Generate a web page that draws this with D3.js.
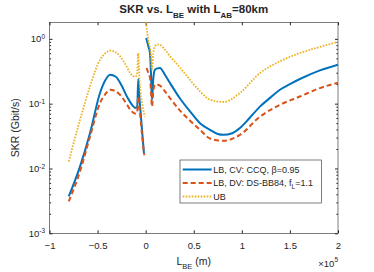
<!DOCTYPE html>
<html>
<head>
<meta charset="utf-8">
<script src="https://cdn.jsdelivr.net/npm/d3@7"></script>
<style>
  body { margin: 0; background: #fff; }
  text { font-family: "Liberation Sans", Arial, sans-serif; fill: #262626; }
</style>
</head>
<body>
<div id="chart"></div>
<script>
// x values in units of 1e5 m, SKR in Gbit/s (each series has two branches around L_BE = 0)
const cvLeftX = [-0.8, -0.683, -0.579, -0.475, -0.42, -0.371, -0.31, -0.25, -0.19, -0.14, -0.105, -0.088, -0.077, -0.07, -0.052, -0.035, -0.018];
const cvLeftY = [0.0037, 0.0107, 0.035, 0.146, 0.23, 0.28, 0.26, 0.19, 0.125, 0.095, 0.086, 0.09, 0.24, 0.16, 0.072, 0.035, 0.0172];
const cvRightX = [0.005, 0.03, 0.045, 0.055, 0.066, 0.08, 0.097, 0.12, 0.149, 0.2, 0.253, 0.357, 0.461, 0.565, 0.669, 0.75, 0.807, 0.9, 0.98, 1.08, 1.188, 1.3, 1.396, 1.5, 1.604, 1.812, 2.0];
const cvRightY = [1.03, 0.75, 0.6, 0.3, 0.115, 0.25, 0.334, 0.35, 0.355, 0.28, 0.208, 0.12, 0.076, 0.05, 0.0395, 0.034, 0.033, 0.035, 0.042, 0.06, 0.09, 0.125, 0.164, 0.2, 0.24, 0.326, 0.4];

const dvLeftX = [-0.8, -0.683, -0.579, -0.475, -0.42, -0.371, -0.31, -0.267, -0.2, -0.146, -0.101, -0.088, -0.077, -0.065, -0.052, -0.035, -0.015];
const dvLeftY = [0.0031, 0.009, 0.031, 0.102, 0.14, 0.164, 0.155, 0.137, 0.1, 0.076, 0.07, 0.075, 0.13, 0.09, 0.056, 0.03, 0.016];
const dvRightX = [0.01, 0.03, 0.045, 0.055, 0.066, 0.08, 0.097, 0.12, 0.149, 0.2, 0.253, 0.357, 0.443, 0.565, 0.669, 0.807, 0.98, 1.188, 1.396, 1.604, 1.812, 2.0];
const dvRightY = [0.355, 0.29, 0.25, 0.16, 0.09, 0.16, 0.196, 0.196, 0.19, 0.155, 0.122, 0.078, 0.058, 0.0395, 0.029, 0.0267, 0.033, 0.063, 0.096, 0.129, 0.174, 0.21];

const ubLeftX = [-0.8, -0.683, -0.579, -0.475, -0.42, -0.371, -0.31, -0.267, -0.2, -0.163, -0.111, -0.09, -0.077, -0.07, -0.059, -0.035, -0.01];
const ubLeftY = [0.0128, 0.056, 0.185, 0.476, 0.6, 0.66, 0.62, 0.54, 0.38, 0.3, 0.26, 0.28, 0.6, 0.35, 0.185, 0.1, 0.063];
const ubRightX = [-0.005, 0.01, 0.027, 0.052, 0.066, 0.079, 0.097, 0.12, 0.149, 0.2, 0.253, 0.357, 0.453, 0.565, 0.669, 0.807, 0.98, 1.188, 1.396, 1.604, 1.812, 2.0];
const ubRightY = [2.5, 1.5, 0.97, 0.6, 0.334, 0.6, 0.766, 0.82, 0.81, 0.68, 0.54, 0.36, 0.24, 0.155, 0.115, 0.106, 0.146, 0.297, 0.449, 0.605, 0.75, 0.9];

const xTicks = [-1, -0.5, 0, 0.5, 1, 1.5, 2];
const yTicks = [1e-3, 1e-2, 1e-1, 1];
const legendLabels = ["LB, CV: CCQ, ", "LB, DV: DS-BB84, f", "UB"];

const margin = { top: 22.3, right: 36, bottom: 38.7, left: 49.5 },
  width = 374 - margin.left - margin.right,
  height = 272 - margin.top - margin.bottom;

const root = d3
  .select("#chart")
  .append("svg")
  .attr("width", 374)
  .attr("height", 272);

const svg = root
  .append("g")
  .attr("transform", `translate(${margin.left},${margin.top})`);

const x = d3.scaleLinear().domain([-1, 2]).range([0, width]);
const y = d3.scaleLog().domain([1e-3, 1.8]).range([height, 0]);

svg
  .append("clipPath")
  .attr("id", "clip")
  .append("rect")
  .attr("width", width)
  .attr("height", height);

// minor log ticks
const minor = [];
for (let e = -3; e <= 0; e++) {
  for (let k = 2; k <= 9; k++) {
    const v = k * Math.pow(10, e);
    if (v <= 1.8) minor.push(v);
  }
}

const axisColor = "#262626";

// bottom / top axes with inward ticks
const gx = svg
  .append("g")
  .attr("transform", `translate(0,${height})`)
  .call(d3.axisBottom(x).tickValues(xTicks).tickSizeInner(-3).tickSizeOuter(0).tickPadding(9)
    .tickFormat((d) => (d === 0 ? "0" : d3.format("")(d))));
gx.selectAll("text").style("font-size", "9.5px").attr("fill", axisColor);
svg
  .append("g")
  .call(d3.axisTop(x).tickValues(xTicks).tickSizeInner(-3).tickSizeOuter(0).tickFormat(""));

// left / right axes
const gy = svg
  .append("g")
  .call(d3.axisLeft(y).tickValues(yTicks).tickSizeInner(-3).tickSizeOuter(0).tickPadding(8).tickFormat(""));
gy.selectAll(".tick")
  .append("text")
  .attr("text-anchor", "end")
  .attr("x", -4.5)
  .attr("dy", "0.33em")
  .style("font-size", "9.5px")
  .call((t) => {
    t.append("tspan").text("10");
    t.append("tspan")
      .attr("dy", "-0.55em")
      .style("font-size", "6.5px")
      .text((d) => Math.round(Math.log10(d)));
  });
svg
  .append("g")
  .attr("transform", `translate(${width},0)`)
  .call(d3.axisRight(y).tickValues(yTicks).tickSizeInner(-3).tickSizeOuter(0).tickFormat(""));
svg
  .append("g")
  .call(d3.axisLeft(y).tickValues(minor).tickSizeInner(-1.6).tickSizeOuter(0).tickFormat(""));
svg
  .append("g")
  .attr("transform", `translate(${width},0)`)
  .call(d3.axisRight(y).tickValues(minor).tickSizeInner(-1.6).tickSizeOuter(0).tickFormat(""));

svg.selectAll(".domain").remove();
svg.selectAll(".tick line").attr("stroke", axisColor);

svg
  .append("rect")
  .attr("width", width)
  .attr("height", height)
  .attr("fill", "none")
  .attr("stroke", axisColor)
  .attr("stroke-width", 0.6);

// curves
const line = d3
  .line()
  .x((d) => x(d[0]))
  .y((d) => y(d[1]))
  .curve(d3.curveMonotoneX);

const series = [
  { parts: [[cvLeftX, cvLeftY], [cvRightX, cvRightY]], color: "#0072BD", width: 2, dash: null },
  { parts: [[dvLeftX, dvLeftY], [dvRightX, dvRightY]], color: "#D95319", width: 2, dash: "5,3" },
  { parts: [[ubLeftX, ubLeftY], [ubRightX, ubRightY]], color: "#EDB120", width: 1.8, dash: "1.6,1.4" },
];

const plot = svg.append("g").attr("clip-path", "url(#clip)");
series.forEach((s) => {
  s.parts.forEach(([xs, ys]) => {
    plot
      .append("path")
      .datum(xs.map((v, i) => [v, ys[i]]))
      .attr("d", line)
      .attr("fill", "none")
      .attr("stroke", s.color)
      .attr("stroke-width", s.width)
      .attr("stroke-dasharray", s.dash);
  });
});

// legend
const lg = root.append("g");
lg.append("rect")
  .attr("x", 180)
  .attr("y", 160)
  .attr("width", 141.5)
  .attr("height", 43)
  .attr("fill", "#fff")
  .attr("stroke", axisColor)
  .attr("stroke-width", 0.6);
const rowY = [169.5, 183, 196.5];
series.forEach((s, i) => {
  lg.append("line")
    .attr("x1", 182.7)
    .attr("x2", 211.7)
    .attr("y1", rowY[i])
    .attr("y2", rowY[i])
    .attr("stroke", s.color)
    .attr("stroke-width", s.width)
    .attr("stroke-dasharray", s.dash);
  const t = lg.append("text")
    .attr("x", 213.3)
    .attr("y", rowY[i])
    .attr("dy", "0.35em")
    .style("font-size", "9px")
    .text(legendLabels[i]);
  if (i === 0) {
    t.append("tspan").text("\u03b2=0.95");
  } else if (i === 1) {
    t.append("tspan").attr("dy", "2.5").style("font-size", "6.5px").text("L");
    t.append("tspan").attr("dy", "-2.5").text("=1.1");
  }
});

// title
const title = root.append("text")
  .attr("x", margin.left + width / 2)
  .attr("y", 13.3)
  .attr("text-anchor", "middle")
  .style("font-size", "11.5px")
  .style("font-weight", "bold")
  .attr("fill", "#000");
title.append("tspan").text("SKR vs. L");
title.append("tspan").attr("dy", 4.5).style("font-size", "8px").text("BE");
title.append("tspan").attr("dy", -4.5).text(" with L");
title.append("tspan").attr("dy", 4.5).style("font-size", "8px").text("AB");
title.append("tspan").attr("dy", -4.5).text("=80km");

// x label
const xl = root.append("text")
  .attr("x", margin.left + width / 2)
  .attr("y", 265)
  .attr("text-anchor", "middle")
  .style("font-size", "10.5px");
xl.append("tspan").text("L");
xl.append("tspan").attr("dy", 3.5).style("font-size", "7.5px").text("BE");
xl.append("tspan").attr("dy", -3.5).text(" (m)");

// x exponent
const xe = root.append("text")
  .attr("x", margin.left + width)
  .attr("y", 266.5)
  .attr("text-anchor", "end")
  .style("font-size", "9.5px");
xe.append("tspan").text("\u00d710");
xe.append("tspan").attr("dy", -5).style("font-size", "6.5px").text("5");

// y label
root.append("text")
  .attr("transform", "rotate(-90)")
  .attr("x", -(margin.top + height / 2))
  .attr("y", 19)
  .attr("text-anchor", "middle")
  .style("font-size", "10.5px")
  .text("SKR (Gbit/s)");
</script>
</body>
</html>
